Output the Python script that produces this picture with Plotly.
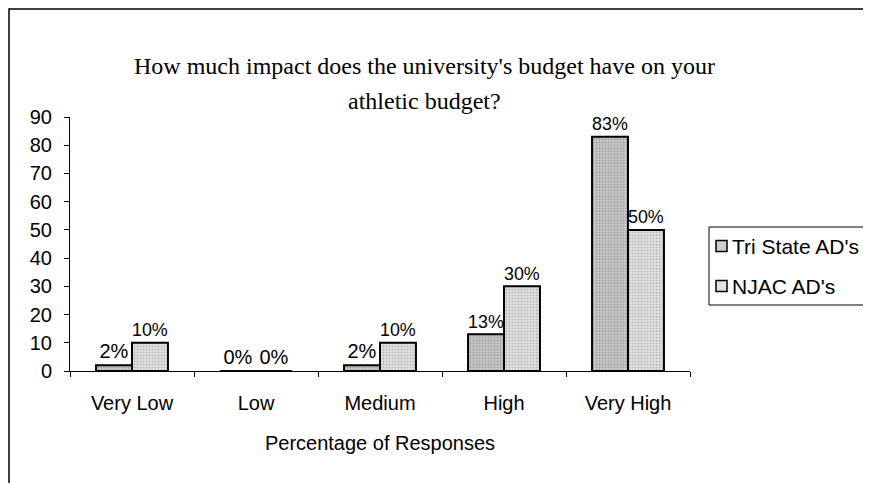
import plotly.graph_objects as go

categories = ["Very Low", "Low", "Medium", "High", "Very High"]
tri_state = [2, 0, 2, 13, 83]
njac = [10, 0, 10, 30, 50]
y_ticks = [0, 10, 20, 30, 40, 50, 60, 70, 80, 90]
series_names = ["Tri State AD's", "NJAC AD's"]
series_fill = ["#cfcfcf", "#e2e2e2"]
series_dots = ["#777777", "#888888"]
title_lines = ["How much impact does the university's budget have on your", "athletic budget?"]

W, H = 871, 483
L, R, T, B = 62, 189, 109, 120
pw, ph = W - L - R, H - T - B

def px(x):
    return (x - L) / pw

def py(y):
    return (H - B - y) / ph

fig = go.Figure()
for name, vals, fill, dots, sol in zip(series_names, [tri_state, njac], series_fill, series_dots, [0.45, 0.35]):
    fig.add_trace(go.Bar(
        name=name, x=categories, y=vals,
        text=[f"{v}%" for v in vals], textposition="outside",
        textfont=dict(family="Arial, Liberation Sans", size=20, color="black"),
        marker=dict(color=fill, line=dict(color="black", width=2),
                    pattern=dict(shape=".", fgcolor=dots, size=3, solidity=sol)),
        cliponaxis=False, showlegend=False,
    ))

shapes = [dict(
    type="rect", xref="paper", yref="paper",
    x0=px(1), x1=px(880), y0=py(495), y1=py(1),
    line=dict(color="black", width=1.5), fillcolor="rgba(0,0,0,0)", layer="below",
), dict(
    type="rect", xref="paper", yref="paper",
    x0=px(701), x1=px(880), y0=py(297), y1=py(219),
    line=dict(color="black", width=1), fillcolor="white", layer="below",
)]
annotations = []
for i, (name, fill) in enumerate(zip(series_names, series_fill)):
    cy = 238 + 40 * i
    shapes.append(dict(
        type="rect", xref="paper", yref="paper",
        x0=px(708), x1=px(719), y0=py(cy + 5.5), y1=py(cy - 5.5),
        line=dict(color="black", width=1.5), fillcolor=fill, layer="above",
    ))
    annotations.append(dict(
        text=name, xref="paper", yref="paper", x=px(722), y=py(cy),
        xanchor="left", yanchor="middle", showarrow=False,
        font=dict(family="Arial, Liberation Sans", size=21, color="black"),
    ))

for i, line in enumerate(title_lines):
    annotations.append(dict(
        text=line, xref="paper", yref="paper", x=px(416), y=py(58 + 35 * i),
        xanchor="center", yanchor="middle", showarrow=False,
        font=dict(family="Liberation Serif, Times New Roman, serif", size=24, color="black"),
    ))

fig.update_layout(
    width=W, height=H,
    margin=dict(l=L, r=R, t=T, b=B),
    paper_bgcolor="white", plot_bgcolor="white",
    barmode="group", bargap=0.42, bargroupgap=0,
    showlegend=False,
    font=dict(family="Arial, Liberation Sans", size=20, color="black"),
    xaxis=dict(
        showline=True, linecolor="black", linewidth=1,
        ticks="outside", ticklen=5, tickcolor="black", tickson="boundaries",
        tickfont=dict(size=20), showgrid=False, ticklabelstandoff=14,
        title=dict(text="Percentage of Responses", font=dict(size=20), standoff=22),
    ),
    yaxis=dict(
        range=[0, 90], tickvals=y_ticks, showline=True, linecolor="black", linewidth=1,
        ticks="outside", ticklen=5, tickcolor="black", showgrid=False, zeroline=False,
        tickfont=dict(size=20), ticklabelstandoff=8,
    ),
    shapes=shapes,
    annotations=annotations,
)

fig.write_html("out.html")
